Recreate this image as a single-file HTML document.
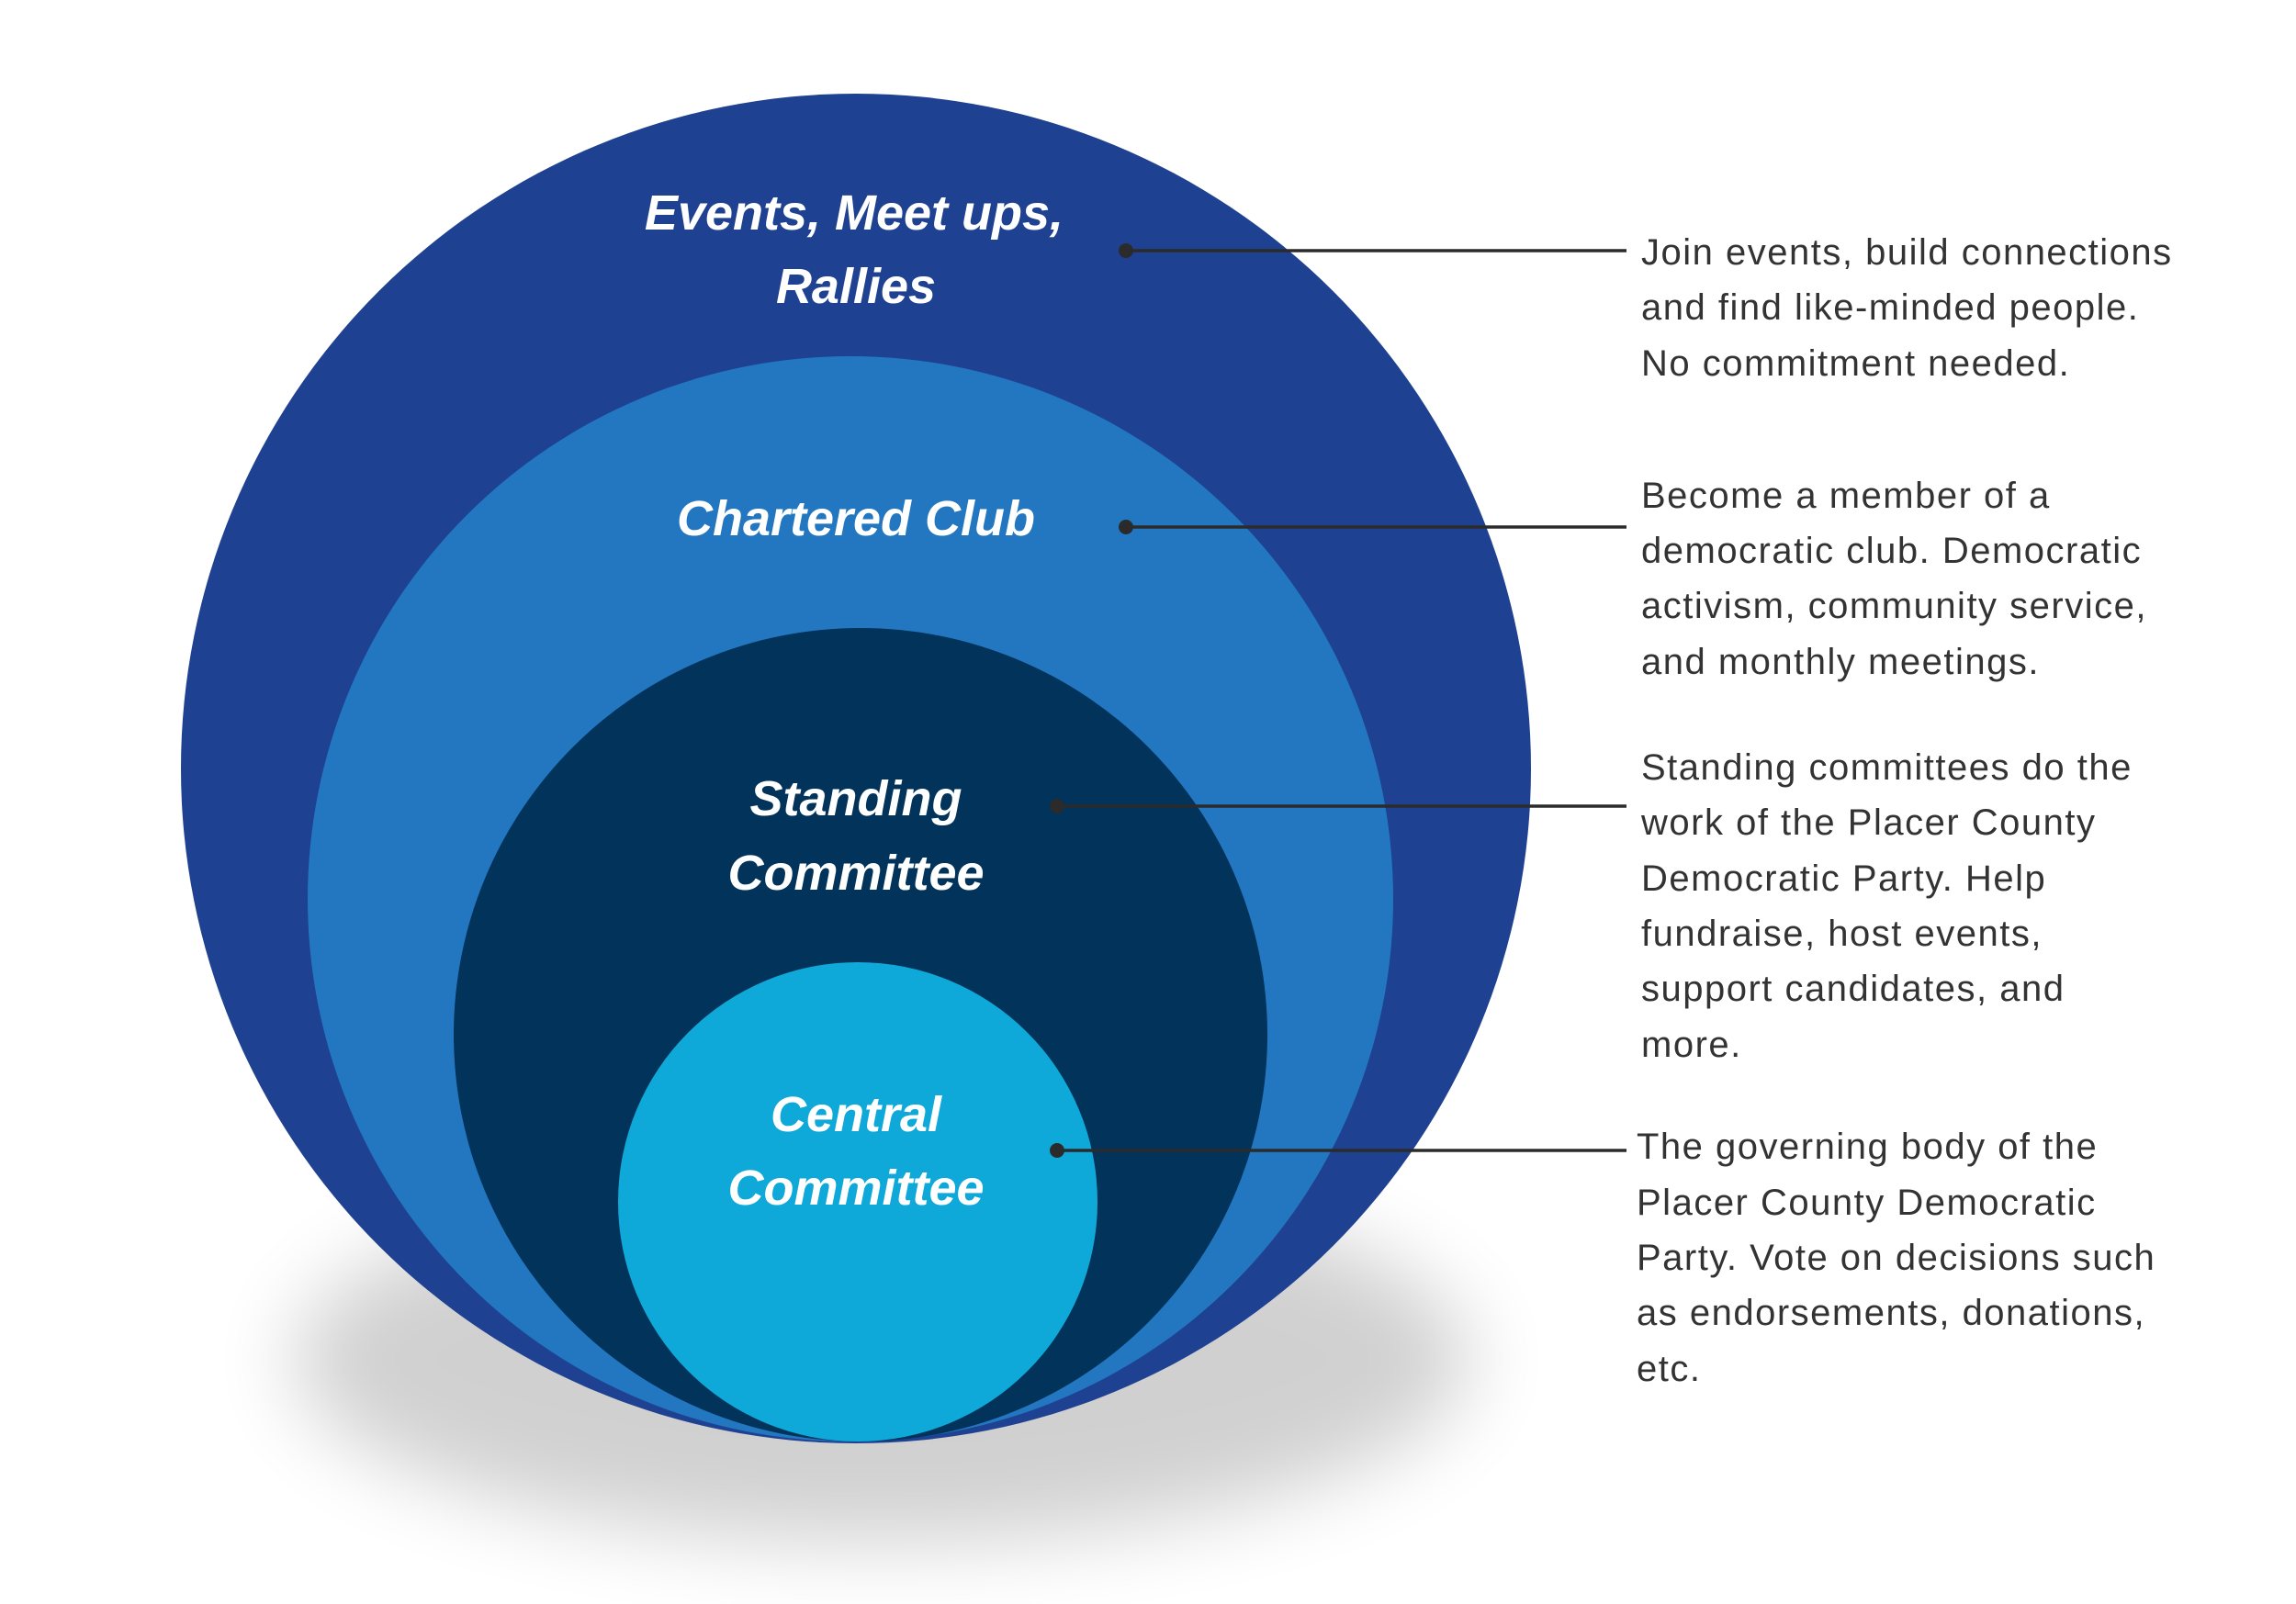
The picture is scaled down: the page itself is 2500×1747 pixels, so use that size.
<!DOCTYPE html>
<html><head><meta charset="utf-8"><style>
html,body{margin:0;padding:0;background:#fff;}
svg{display:block}
</style></head><body>
<svg width="2500" height="1747" viewBox="0 0 2500 1747" xmlns="http://www.w3.org/2000/svg">
<defs>
<filter id="sh" x="-50%" y="-50%" width="200%" height="200%"><feGaussianBlur stdDeviation="45"/></filter>
</defs>
<rect width="2500" height="1747" fill="#fff"/>
<ellipse cx="960" cy="1480" rx="640" ry="200" fill="#000" opacity="0.18" filter="url(#sh)"/>
<circle cx="932" cy="837" r="735" fill="#1f4191"/>
<circle cx="926" cy="979" r="591" fill="#2277c0"/>
<circle cx="937" cy="1127" r="443" fill="#02335a"/>
<circle cx="934" cy="1309" r="261" fill="#0fa9d9"/>
<g font-family="Liberation Sans, sans-serif" font-weight="bold" font-style="italic" font-size="54" fill="#fff" text-anchor="middle">
<text x="930" y="250">Events, Meet ups,</text>
<text x="932" y="330">Rallies</text>
<text x="932" y="583">Chartered Club</text>
<text x="932" y="888">Standing</text>
<text x="932" y="969">Committee</text>
<text x="932" y="1232">Central</text>
<text x="932" y="1312">Committee</text>
</g>
<g stroke="#2b2b2b" stroke-width="3.5">
<line x1="1226" y1="273" x2="1771" y2="273"/>
<line x1="1226" y1="574" x2="1771" y2="574"/>
<line x1="1151" y1="878" x2="1771" y2="878"/>
<line x1="1151" y1="1253" x2="1771" y2="1253"/>
</g>
<g fill="#2b2b2b">
<circle cx="1226" cy="273" r="8"/><circle cx="1226" cy="574" r="8"/>
<circle cx="1151" cy="878" r="8"/><circle cx="1151" cy="1253" r="8"/>
</g>
<g font-family="Liberation Sans, sans-serif" font-size="40" fill="#333" letter-spacing="1.5">
<text x="1787" y="288">Join events, build connections</text>
<text x="1787" y="348">and find like-minded people.</text>
<text x="1787" y="409">No commitment needed.</text>
<text x="1787" y="553">Become a member of a</text>
<text x="1787" y="613">democratic club. Democratic</text>
<text x="1787" y="673">activism, community service,</text>
<text x="1787" y="734">and monthly meetings.</text>
<text x="1787" y="849">Standing committees do the</text>
<text x="1787" y="909">work of the Placer County</text>
<text x="1787" y="970">Democratic Party. Help</text>
<text x="1787" y="1030">fundraise, host events,</text>
<text x="1787" y="1090">support candidates, and</text>
<text x="1787" y="1151">more.</text>
<text x="1782" y="1262">The governing body of the</text>
<text x="1782" y="1323">Placer County Democratic</text>
<text x="1782" y="1383">Party. Vote on decisions such</text>
<text x="1782" y="1443">as endorsements, donations,</text>
<text x="1782" y="1504">etc.</text>
</g>
</svg>
</body></html>
